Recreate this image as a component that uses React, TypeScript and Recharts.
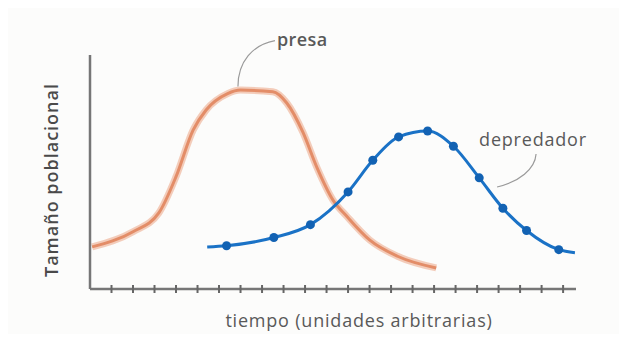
import { LineChart, Line, XAxis, YAxis, Label, ReferenceDot } from "recharts";

// tiempo (unidades arbitrarias) and tamaño poblacional
const preyTime = [0.1, 2.0, 3.2, 4.0, 4.8, 5.4, 6.4, 7.0, 8.5, 9.15, 9.9, 10.55, 11.3, 11.95, 13.0, 14.3, 16.1];
const preySize = [18, 24.5, 32.5, 48, 68, 76.5, 83.5, 85, 84.3, 79.5, 67, 52, 38, 31, 21, 14, 9];

const predTime = [5.45, 6.35, 8.55, 10.25, 12.0, 13.15, 14.35, 15.7, 16.9, 18.1, 19.2, 20.3, 21.8, 22.55];
const predSize = [18, 18.5, 22, 27.5, 41.5, 55, 65, 67.5, 61, 47.5, 34.5, 25, 16.8, 15.5];

const timeTicks = [1, 2, 3, 4, 5, 6, 7, 8, 9, 10, 11, 12, 13, 14, 15, 16, 17, 18, 19, 20, 21, 22];

const preyData = preyTime.map((t, i) => ({ t, size: preySize[i] }));
const predData = predTime.map((t, i) => ({ t, size: predSize[i] }));

const AXIS = "#767676";
const TEXT = "#595959";
const FONT = "'Open Sans', Lato, sans-serif";

function Tick(props: any) {
  const { x, y } = props;
  return <line x1={x} x2={x} y1={y - 4} y2={y + 4} stroke="#666" strokeWidth={2} />;
}

function PredDot(props: any) {
  const { cx, cy, index } = props;
  if (index === 0 || index === predData.length - 1) return <g key={index} />;
  return <circle key={index} cx={cx} cy={cy} r={4.5} fill="#1262b3" />;
}

export default function App() {
  return (
    <div style={{ width: 611, height: 326, background: "#fcfcfb" }}>
      <LineChart width={611} height={326} margin={{ top: 47, right: 43, left: 81, bottom: 25 }}>
        <XAxis
          type="number"
          dataKey="t"
          domain={[0, 22.6]}
          ticks={timeTicks}
          height={20}
          tickSize={0}
          tickMargin={0}
          tick={<Tick />}
          axisLine={{ stroke: AXIS, strokeWidth: 2.5 }}
          tickLine={false}
          allowDuplicatedCategory={false}
        >
          <Label
            content={({ viewBox }: any) => (
              <text
                x={viewBox.x + viewBox.width / 2 + 26}
                y={viewBox.y + 38}
                textAnchor="middle"
                fontFamily={FONT}
                fontSize={18}
                letterSpacing={0.8}
                fill={TEXT}
              >
                tiempo (unidades arbitrarias)
              </text>
            )}
          />
        </XAxis>
        <YAxis
          type="number"
          domain={[0, 100]}
          width={1}
          tick={false}
          tickLine={false}
          axisLine={{ stroke: AXIS, strokeWidth: 2.5 }}
        >
          <Label
            content={({ viewBox }: any) => {
              const x = viewBox.x + viewBox.width - 32;
              const y = viewBox.y + viewBox.height / 2 + 8;
              return (
                <text
                  x={x}
                  y={y}
                  transform={`rotate(-90 ${x} ${y})`}
                  textAnchor="middle"
                  fontFamily={FONT}
                  fontSize={18}
                  letterSpacing={1}
                  fontWeight={600}
                  fill="#4a4a4a"
                >
                  Tamaño poblacional
                </text>
              );
            }}
          />
        </YAxis>
        <Line
          data={preyData}
          dataKey="size"
          type="monotone"
          stroke="#f0b89e"
          strokeWidth={7}
          strokeOpacity={0.7}
          dot={false}
          isAnimationActive={false}
        />
        <Line
          data={preyData}
          dataKey="size"
          type="monotone"
          stroke="#e38d68"
          strokeWidth={3}
          dot={false}
          isAnimationActive={false}
        />
        <Line
          data={predData}
          dataKey="size"
          type="monotone"
          stroke="#1a72c6"
          strokeWidth={3}
          dot={<PredDot />}
          isAnimationActive={false}
        />
        <ReferenceDot
          x={6.88}
          y={86.5}
          r={0}
          shape={(p: any) => (
            <g>
              <path
                d={`M${p.cx},${p.cy} C${p.cx},${p.cy - 25} ${p.cx + 15},${p.cy - 42} ${p.cx + 37},${p.cy - 46}`}
                fill="none"
                stroke="#9a9a9a"
                strokeWidth={1.2}
              />
              <text x={p.cx + 39} y={p.cy - 41} fontFamily={FONT} fontSize={18} letterSpacing={0.4} fontWeight={600} fill={TEXT}>
                presa
              </text>
            </g>
          )}
        />
        <ReferenceDot
          x={18.93}
          y={43.6}
          r={0}
          shape={(p: any) => (
            <g>
              <path
                d={`M${p.cx},${p.cy} C${p.cx + 22},${p.cy - 5} ${p.cx + 38},${p.cy - 18} ${p.cx + 39},${p.cy - 33}`}
                fill="none"
                stroke="#9a9a9a"
                strokeWidth={1.2}
              />
              <text x={p.cx - 18} y={p.cy - 41} fontFamily={FONT} fontSize={18} letterSpacing={0.8} fill={TEXT}>
                depredador
              </text>
            </g>
          )}
        />
      </LineChart>
    </div>
  );
}
